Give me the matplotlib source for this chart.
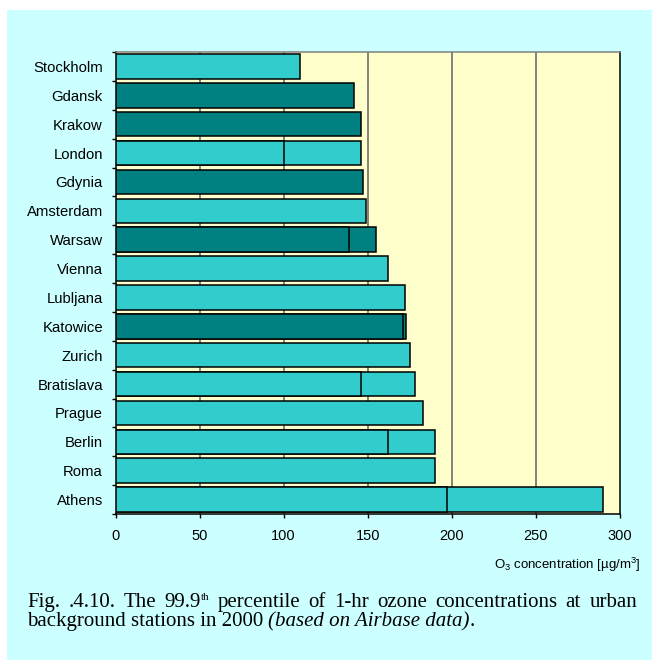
import matplotlib
matplotlib.use("Agg")
import matplotlib.pyplot as plt
from matplotlib.patches import Rectangle
import numpy as np

cities = ["Stockholm", "Gdansk", "Krakow", "London", "Gdynia", "Amsterdam", "Warsaw",
          "Vienna", "Lubljana", "Katowice", "Zurich", "Bratislava", "Prague", "Berlin",
          "Roma", "Athens"]
max_vals = [110, 142, 146, 146, 147, 149, 155, 162, 172, 173, 175, 178, 183, 190, 190, 290]
min_vals = [None, None, None, 100, None, None, 139, None, None, 171, None, 146, None, 162,
            None, 197]
polish = ["Gdansk", "Krakow", "Gdynia", "Warsaw", "Katowice"]
x_ticks = [0, 50, 100, 150, 200, 250, 300]

LIGHT = "#33CCCC"
DARK = "#008080"
W, H = 652, 660

plt.rcParams["font.family"] = ["Liberation Sans", "DejaVu Sans"]
plt.rcParams["mathtext.fontset"] = "custom"
plt.rcParams["mathtext.rm"] = "Liberation Sans"
plt.rcParams["mathtext.it"] = "Liberation Sans:italic"

fig = plt.figure(figsize=(W / 100, H / 100), dpi=100, facecolor="white")
fig.patches.append(Rectangle((7 / W, 0), 1 - 7 / W, (H - 10) / H, transform=fig.transFigure,
                             facecolor="#CCFFFF", edgecolor="none", zorder=-5))

left, right, top, bottom = 115.5, 620, 52, 514
ax = fig.add_axes([left / W, 1 - bottom / H, (right - left) / W, (bottom - top) / H])
ax.set_facecolor("#FFFFCC")

y = np.arange(len(cities))
colors = [DARK if c in polish else LIGHT for c in cities]
bh = 0.845
ax.barh(y, max_vals, height=bh, color=colors, edgecolor="black", linewidth=1.1, zorder=3)
for i, v in enumerate(min_vals):
    if v is not None:
        ax.barh(y[i], v, height=bh, color=colors[i], edgecolor="black", linewidth=1.1, zorder=4)

ax.set_xlim(0, 300)
ax.set_ylim(len(cities) - 0.5, -0.5)
for gx in [50, 100, 150, 200, 250]:
    ax.axvline(gx, color="#7a7a7a", linewidth=1.3, zorder=1)

ax.set_xticks(x_ticks)
ax.set_xticklabels([str(t) for t in x_ticks])
ax.tick_params(axis="x", direction="out", length=3, width=1, pad=7.5, labelsize=10.5)
ax.set_yticks(y)
ax.set_yticklabels(cities)
ax.tick_params(axis="y", which="major", length=0, pad=9, labelsize=10.7)
ax.set_yticks(np.arange(-0.5, len(cities), 1), minor=True)
ax.tick_params(axis="y", which="minor", direction="out", length=3, width=1)

for s in ["left", "bottom", "right"]:
    ax.spines[s].set_color("black")
    ax.spines[s].set_linewidth(1.1)
ax.spines["top"].set_color("#808080")
ax.spines["top"].set_linewidth(1.1)

fig.text(641 / W, 1 - 569 / H, r"O$_3$ concentration [µg/m$^3$]", ha="right",
         va="baseline", fontsize=9.5)

# caption (justified first line)
renderer = fig.canvas.get_renderer()
serif = ["Liberation Serif", "DejaVu Serif"]
csize = 15.0


def tx(xp, yp, s, **kw):
    return fig.text(xp / W, 1 - yp / H, s, ha="left", va="baseline", family=serif, **kw)


def width_px(t):
    return t.get_window_extent(renderer).width


line1 = ["Fig.", ".4.10.", "The", "99.9", "percentile", "of", "1-hr", "ozone",
         "concentrations", "at", "urban"]
x0, x1, base1, base2 = 27, 637, 607, 626
objs = []
widths = []
for w in line1:
    t = tx(0, base1, w, fontsize=csize)
    wd = width_px(t)
    sup = None
    if w == "99.9":
        sup = tx(0, base1 - 7, "th", fontsize=8)
        wd += width_px(sup)
    objs.append((t, sup))
    widths.append(wd)
gap = (x1 - x0 - sum(widths)) / (len(line1) - 1)
xc = x0
for (t, sup), wd in zip(objs, widths):
    t.set_x(xc / W)
    if sup is not None:
        sup.set_x((xc + width_px(t)) / W)
    xc += wd + gap

t1 = tx(x0, base2, "background stations in 2000 ", fontsize=csize)
xa = x0 + width_px(t1)
t2 = tx(xa, base2, "(based on Airbase data)", fontsize=csize, style="italic")
xb = xa + width_px(t2)
tx(xb, base2, ".", fontsize=csize)

fig.savefig("out.png", dpi=100, facecolor=fig.get_facecolor())
